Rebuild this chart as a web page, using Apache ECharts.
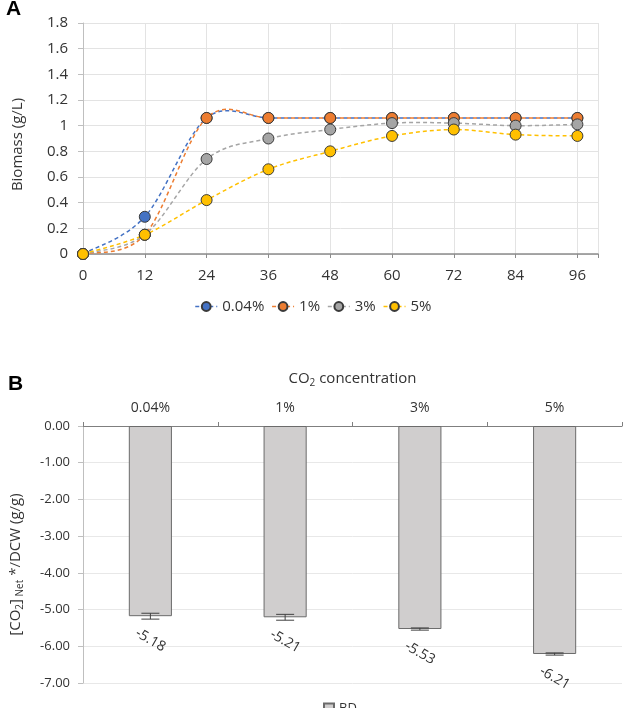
<!DOCTYPE html>
<html>
<head>
<meta charset="utf-8">
<script src="https://cdn.jsdelivr.net/npm/echarts@6/dist/echarts.min.js"></script>
<style>
html,body{margin:0;padding:0;background:#fff;}
#c{width:626px;height:708px;}
</style>
</head>
<body>
<div id="c"></div>
<script>
// ---- Panel A data ----
const hours = [0, 12, 24, 36, 48, 60, 72, 84, 96];
const seriesNamesA = ['0.04%', '1%', '3%', '5%'];
const biomass004 = [0, 0.29, 1.06, 1.06, 1.06, 1.06, 1.06, 1.06, 1.06];
const biomass1 = [0, 0.15, 1.06, 1.06, 1.06, 1.06, 1.06, 1.06, 1.06];
const biomass3 = [0, 0.15, 0.74, 0.90, 0.97, 1.02, 1.02, 1.00, 1.01];
const biomass5 = [0, 0.15, 0.42, 0.66, 0.80, 0.92, 0.97, 0.93, 0.92];

// ---- Panel B data ----
const co2Categories = ['0.04%', '1%', '3%', '5%'];
const co2Net = [-5.18, -5.21, -5.53, -6.21];
const co2Sd = [0.08, 0.08, 0.03, 0.03];
const legendB = 'BD';

const colorsA = ['#4472C4', '#ED7D31', '#A5A5A5', '#FFC000'];
const FONT = '"Open Sans", "Noto Sans", sans-serif';
const chart = echarts.init(document.getElementById('c'));

const allA = [biomass004, biomass1, biomass3, biomass5];

// marker series (line hidden; the smoothed dashed curve is drawn by the custom series below)
const markerSeries = allA.map((arr, i) => ({
  name: seriesNamesA[i],
  type: 'line',
  xAxisIndex: 0, yAxisIndex: 0,
  data: hours.map((h, k) => [h, arr[k]]),
  symbol: 'circle',
  symbolSize: 11,
  lineStyle: { color: colorsA[i], width: 1.5, type: [4, 3], opacity: 0 },
  itemStyle: { color: colorsA[i], borderColor: '#3a3a3a', borderWidth: 1 },
  z: 10 + i
}));

// Excel-style smoothed curve (Catmull-Rom bezier) through the data points, via axis coords
const curveSeries = allA.map((arr, i) => ({
  name: seriesNamesA[i],
  type: 'custom',
  xAxisIndex: 0, yAxisIndex: 0,
  data: [[hours[0], arr[0]]],
  renderItem: function (params, api) {
    const pts = hours.map((h, k) => api.coord([h, arr[k]]));
    const n = pts.length;
    let d = 'M' + pts[0][0] + ' ' + pts[0][1];
    for (let k = 0; k < n - 1; k++) {
      const p0 = pts[Math.max(k - 1, 0)], p1 = pts[k], p2 = pts[k + 1], p3 = pts[Math.min(k + 2, n - 1)];
      const c1x = p1[0] + (p2[0] - p0[0]) / 6, c1y = p1[1] + (p2[1] - p0[1]) / 6;
      const c2x = p2[0] - (p3[0] - p1[0]) / 6, c2y = p2[1] - (p3[1] - p1[1]) / 6;
      d += ' C' + c1x + ' ' + c1y + ' ' + c2x + ' ' + c2y + ' ' + p2[0] + ' ' + p2[1];
    }
    return {
      type: 'path',
      shape: { pathData: d },
      style: { stroke: colorsA[i], fill: null, lineWidth: 1.5, lineDash: [4, 3] },
      silent: true
    };
  },
  z: 2 + i
}));

const option = {
  animation: false,
  backgroundColor: '#fff',
  textStyle: { fontFamily: FONT },
  graphic: [
    { type: 'text', left: 6, top: -1, style: { text: 'A', font: 'bold 21px "Liberation Sans", sans-serif', fill: '#000' } },
    { type: 'text', left: 8, top: 374, style: { text: 'B', font: 'bold 21px "Liberation Sans", sans-serif', fill: '#000' } }
  ],
  legend: [
    {
      data: seriesNamesA,
      top: 294, left: 'center',
      itemWidth: 22, itemHeight: 11, itemGap: 7,
      lineStyle: { opacity: 1, width: 1.5, type: [4, 3] },
      textStyle: { fontSize: 15, color: '#333', fontFamily: FONT }
    },
    {
      data: [legendB],
      top: 697, left: 318,
      itemWidth: 10, itemHeight: 10,
      icon: 'rect',
      textStyle: { fontSize: 13, color: '#333', fontFamily: FONT }
    }
  ],
  grid: [
    { left: 83, right: 28, top: 23, bottom: 454, containLabel: false },
    { left: 83, right: 4, top: 426, bottom: 25, containLabel: false }
  ],
  xAxis: [
    {
      gridIndex: 0, type: 'value', min: 0, max: 100, interval: 12,
      axisLine: { show: true, lineStyle: { color: '#8c8c8c', width: 1.5 } },
      axisTick: { show: true, length: 4, lineStyle: { color: '#8c8c8c' } },
      axisLabel: { fontSize: 15, color: '#333', margin: 14, formatter: v => (v === 100 ? '' : String(v)) },
      splitLine: { show: true, lineStyle: { color: '#e3e3e3' } }
    },
    {
      gridIndex: 1, type: 'category', data: co2Categories, position: 'top',
      name: 'CO{sub|2} concentration', nameLocation: 'middle', nameGap: 38,
      nameTextStyle: { fontSize: 15, color: '#333', rich: { sub: { fontSize: 10, padding: [8, 0, 0, 0] } } },
      axisLine: { show: true, lineStyle: { color: '#7f7f7f', width: 1.2 } },
      axisTick: { show: true, length: 4, alignWithLabel: false, lineStyle: { color: '#7f7f7f' } },
      axisLabel: { fontSize: 14, color: '#333', margin: 11 },
      splitLine: { show: false }
    }
  ],
  yAxis: [
    {
      gridIndex: 0, type: 'value', min: 0, max: 1.8, interval: 0.2,
      name: 'Biomass (g/L)', nameLocation: 'middle', nameGap: 58,
      nameTextStyle: { fontSize: 15, color: '#333', padding: [0, 12, 0, 0] },
      axisLine: { show: true, lineStyle: { color: '#bfbfbf' } },
      axisTick: { show: true, length: 5, lineStyle: { color: '#bfbfbf' } },
      axisLabel: { fontSize: 15, color: '#333', margin: 15, formatter: v => String(Math.round(v * 10) / 10) },
      splitLine: { show: true, lineStyle: { color: '#e3e3e3' } }
    },
    {
      gridIndex: 1, type: 'value', min: -7, max: 0, interval: 1,
      name: '[CO{sub|2}]{sub| Net} */DCW (g/g)', nameLocation: 'middle', nameGap: 58,
      nameTextStyle: { fontSize: 15, color: '#333', padding: [0, 20, 0, 0], rich: { sub: { fontSize: 10, padding: [8, 0, 0, 0] } } },
      axisLine: { show: true, lineStyle: { color: '#bfbfbf' } },
      axisTick: { show: true, length: 5, lineStyle: { color: '#bfbfbf' } },
      axisLabel: { fontSize: 13, color: '#333', margin: 13, formatter: v => v.toFixed(2) },
      splitLine: { show: true, lineStyle: { color: '#e8e8e8' } }
    }
  ],
  series: markerSeries.concat(curveSeries).concat([
    {
      name: legendB,
      type: 'bar',
      xAxisIndex: 1, yAxisIndex: 1,
      data: co2Net,
      barWidth: '32%',
      itemStyle: { color: '#d0cece', borderColor: '#6b6b6b', borderWidth: 1 },
      label: {
        show: true, position: 'bottom', distance: 24, rotate: -30,
        align: 'center', verticalAlign: 'middle',
        fontSize: 14, color: '#333',
        formatter: p => p.value.toFixed(2)
      },
      z: 2
    },
    {
      name: 'sd',
      type: 'custom',
      xAxisIndex: 1, yAxisIndex: 1,
      data: co2Net.map((v, i) => [i, v - co2Sd[i], v + co2Sd[i]]),
      renderItem: function (params, api) {
        const lo = api.coord([api.value(0), api.value(1)]);
        const hi = api.coord([api.value(0), api.value(2)]);
        const hw = 9;
        const st = { stroke: '#404040', lineWidth: 1 };
        return {
          type: 'group',
          children: [
            { type: 'line', shape: { x1: lo[0], y1: lo[1], x2: hi[0], y2: hi[1] }, style: st },
            { type: 'line', shape: { x1: lo[0] - hw, y1: lo[1], x2: lo[0] + hw, y2: lo[1] }, style: st },
            { type: 'line', shape: { x1: hi[0] - hw, y1: hi[1], x2: hi[0] + hw, y2: hi[1] }, style: st }
          ]
        };
      },
      z: 5
    }
  ])
};
chart.setOption(option);
</script>
</body>
</html>
